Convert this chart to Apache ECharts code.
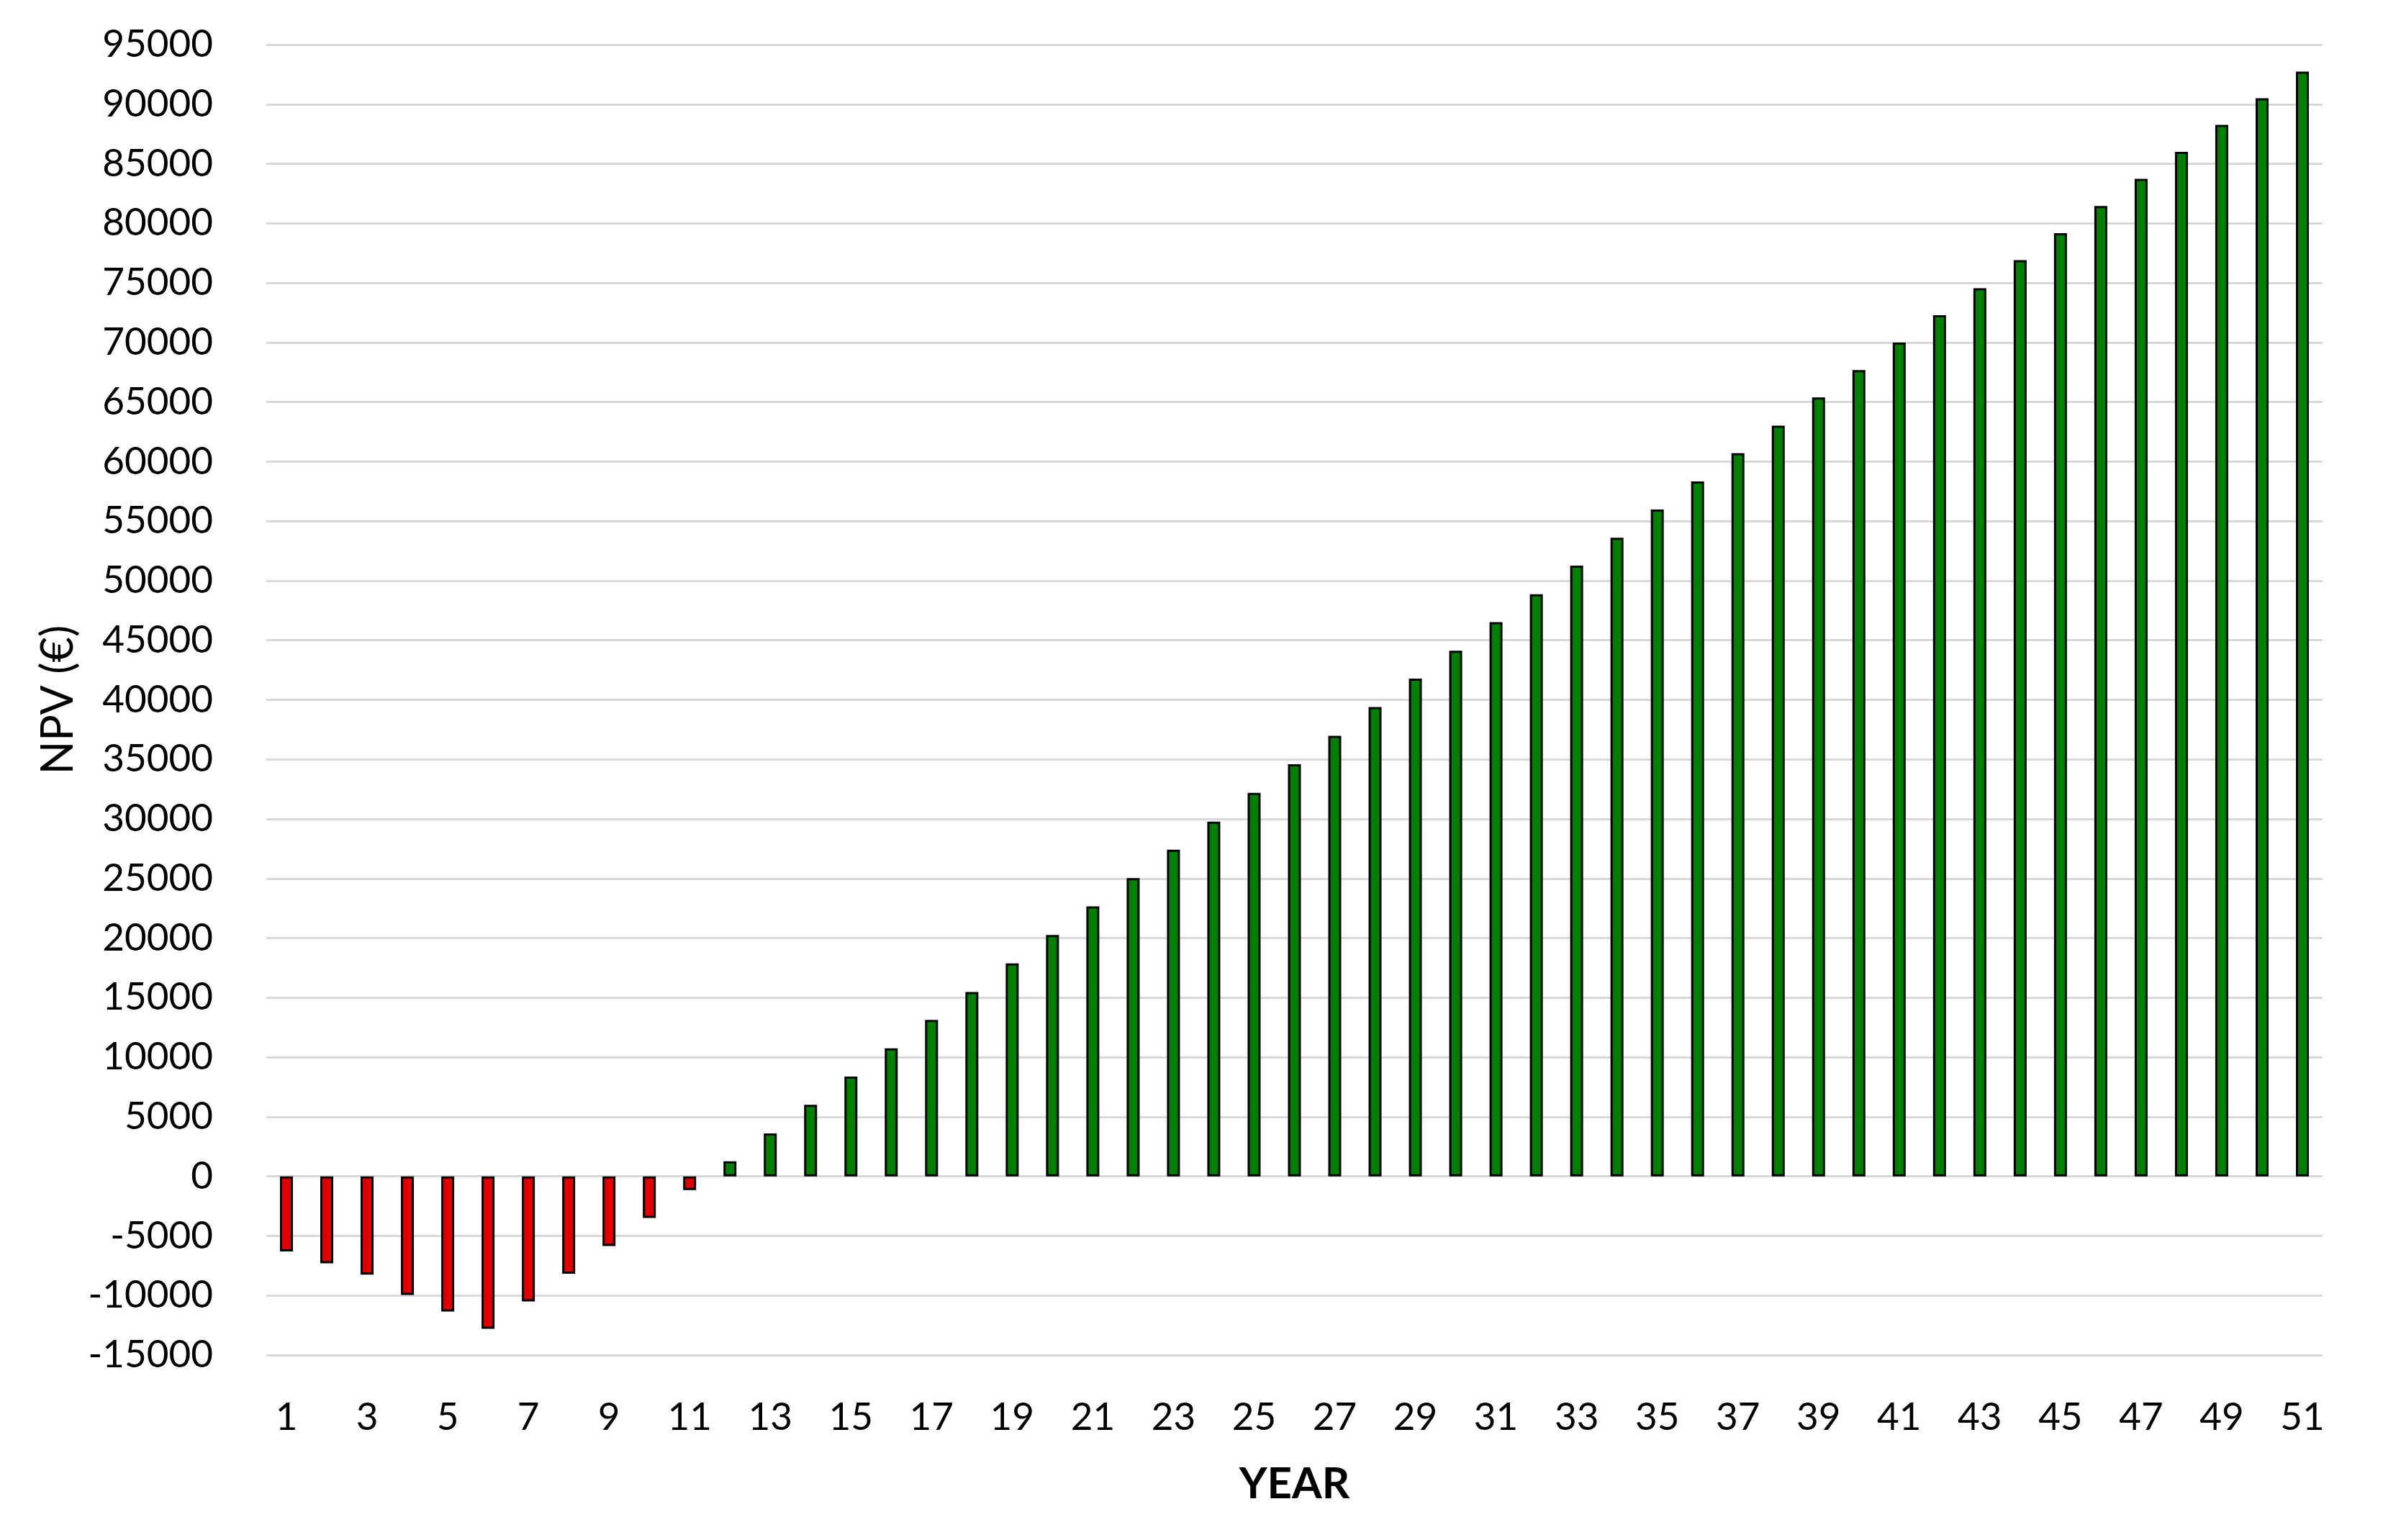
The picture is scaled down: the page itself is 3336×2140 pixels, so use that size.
<!DOCTYPE html>
<html>
<head>
<meta charset="utf-8">
<script src="https://cdn.jsdelivr.net/npm/echarts@6/dist/echarts.min.js"></script>
<style>
html,body{margin:0;padding:0;background:#fff;}
#chart{width:3336px;height:2140px;}
</style>
</head>
<body>
<div id="chart"></div>
<script>
const years = [1,2,3,4,5,6,7,8,9,10,11,12,13,14,15,16,17,18,19,20,21,22,23,24,25,26,27,28,29,30,31,32,33,34,35,36,37,38,39,40,41,42,43,44,45,46,47,48,49,50,51];
const npv = [-6300,-7300,-8250,-9950,-11350,-12800,-10500,-8170,-5850,-3500,-1150,
  1260,3610,6000,8370,10750,13130,15480,17880,20260,22660,25040,27420,29780,32190,34600,36980,
  39400,41780,44120,46520,48870,51270,53610,55980,58330,60700,63020,65390,67680,69990,
  72290,74550,76910,79170,81450,83740,86000,88260,90500,92730];
const yMin = -15000, yMax = 95000, yStep = 5000;
const negColor = '#E00000', posColor = '#008000';

const chart = echarts.init(document.getElementById('chart'));
const barData = npv.map(v => ({value: v, itemStyle: {color: v < 0 ? negColor : posColor}}));
chart.setOption({
  backgroundColor: '#ffffff',
  animation: false,
  textStyle: {fontFamily: 'Lato'},
  grid: {left: 370, right: 109, top: 62, bottom: 257, containLabel: false},
  xAxis: {
    type: 'category',
    data: years,
    name: 'YEAR',
    nameLocation: 'middle',
    nameGap: 150,
    nameTextStyle: {fontSize: 60, fontWeight: 'bold', color: '#000', fontFamily: 'Lato'},
    axisLine: {show: false},
    axisTick: {show: false},
    axisLabel: {interval: 1, fontSize: 53, color: '#000', margin: 60, fontFamily: 'Lato'},
    splitLine: {show: false}
  },
  yAxis: {
    type: 'value',
    min: yMin, max: yMax, interval: yStep,
    name: 'NPV (€)',
    nameLocation: 'middle',
    nameGap: 248,
    nameRotate: 90,
    nameTextStyle: {fontSize: 61, color: '#000', fontFamily: 'Lato'},
    axisLine: {show: false},
    axisTick: {show: false},
    axisLabel: {fontSize: 53, color: '#000', margin: 74, fontFamily: 'Lato', formatter: v => String(v)},
    splitLine: {show: true, lineStyle: {color: '#d9d9d9', width: 3}}
  },
  series: [{
    type: 'bar',
    data: barData,
    barWidth: 18,
    itemStyle: {borderColor: '#000', borderWidth: 3}
  }]
});
</script>
</body>
</html>
